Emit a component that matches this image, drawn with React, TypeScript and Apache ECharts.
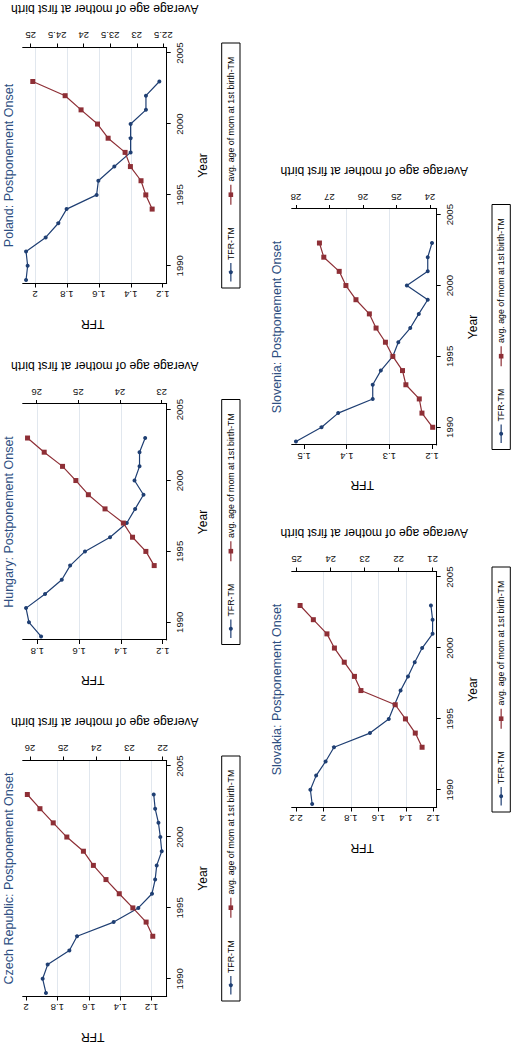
import React, { useEffect, useRef } from 'react';
import * as echarts from 'echarts';

const FONT = '"Liberation Sans", Arial, Helvetica, sans-serif';
const BLUE = '#1f3f73';
const RED = '#8e2f36';
const TITLE_BLUE = '#2e4f82';
const GRID_COLOR = '#e1e7ee';

const years = [1989, 1990, 1991, 1992, 1993, 1994, 1995, 1996, 1997, 1998, 1999, 2000, 2001, 2002, 2003];
const xTicks = [1990, 1995, 2000, 2005];

// Czech Republic
const czechTfr = [1.873, 1.894, 1.862, 1.724, 1.675, 1.442, 1.285, 1.198, 1.178, 1.168, 1.136, 1.145, 1.157, 1.178, 1.187];
const czechAge = [null, null, null, null, 22.30, 22.50, 22.90, 23.31, 23.71, 24.09, 24.39, 24.89, 25.30, 25.70, 26.08];
const czechTfrTicks = [1.2, 1.4, 1.6, 1.8, 2];
const czechTfrGrid = [1.2, 1.4, 1.6, 1.8];
const czechAgeTicks = [22, 23, 24, 25, 26];

// Hungary
const hungaryTfr = [1.782, 1.84, 1.854, 1.763, 1.683, 1.643, 1.572, 1.452, 1.372, 1.332, 1.292, 1.335, 1.311, 1.311, 1.284];
const hungaryAge = [null, null, null, null, null, 23.18, 23.38, 23.70, 23.92, 24.36, 24.76, 25.06, 25.38, 25.82, 26.22];
const hungaryTfrTicks = [1.2, 1.4, 1.6, 1.8];
const hungaryTfrGrid = [1.4, 1.6, 1.8];
const hungaryAgeTicks = [23, 24, 25, 26];

// Poland
const polandTfr = [2.056, 2.046, 2.056, 1.933, 1.854, 1.802, 1.614, 1.603, 1.503, 1.401, 1.401, 1.401, 1.305, 1.305, 1.221];
const polandAge = [null, null, null, null, null, 22.71, 22.83, 22.92, 23.12, 23.22, 23.54, 23.74, 24.05, 24.35, 24.96];
const polandTfrTicks = [1.2, 1.4, 1.6, 1.8, 2];
const polandTfrGrid = [1.4, 1.6, 1.8, 2];
const polandAgeTicks = [22.5, 23, 23.5, 24, 24.5, 25];

// Slovakia
const slovakiaTfr = [2.082, 2.095, 2.053, 1.984, 1.923, 1.661, 1.524, 1.482, 1.438, 1.384, 1.335, 1.281, 1.205, 1.205, 1.217];
const slovakiaAge = [null, null, null, null, 21.31, 21.51, 21.80, 22.10, 23.11, 23.30, 23.60, 23.89, 24.11, 24.51, 24.90];
const slovakiaTfrTicks = [1.2, 1.4, 1.6, 1.8, 2, 2.2];
const slovakiaTfrGrid = [1.4, 1.6, 1.8, 2];
const slovakiaAgeTicks = [21, 22, 23, 24, 25];

// Slovenia
const sloveniaTfr = [1.519, 1.459, 1.42, 1.339, 1.339, 1.32, 1.292, 1.279, 1.251, 1.231, 1.21, 1.259, 1.21, 1.21, 1.20];
const sloveniaAge = [null, 23.92, 24.24, 24.32, 24.72, 24.82, 25.11, 25.33, 25.61, 25.81, 26.21, 26.51, 26.71, 27.17, 27.30];
const sloveniaTfrTicks = [1.2, 1.3, 1.4, 1.5];
const sloveniaTfrGrid = [1.3, 1.4];
const sloveniaAgeTicks = [24, 25, 26, 27, 28];

const TFR_NAME = 'TFR-TM';
const AGE_NAME = 'avg. age of mom at 1st birth-TM';

// layout of the unrotated (1044 x 512) figure
const PLOT_W = 236;
const X_MIN = 1988.75;
const X_MAX = 2005.4;

const panels = [
  { title: 'Czech Republic: Postponement Onset', tfr: czechTfr, age: czechAge, tfrTicks: czechTfrTicks, tfrGrid: czechTfrGrid, ageTicks: czechAgeTicks, tfrRange: [1.1045, 2.021], ageRange: [21.88, 26.22], left: 47.5, top: 22.7, height: 144, titleY: 9.3, legendTop: 221.7 },
  { title: 'Hungary: Postponement Onset', tfr: hungaryTfr, age: hungaryAge, tfrTicks: hungaryTfrTicks, tfrGrid: hungaryTfrGrid, ageTicks: hungaryAgeTicks, tfrRange: [1.181, 1.870], ageRange: [22.88, 26.336], left: 404, top: 22.7, height: 144, titleY: 9.3, legendTop: 221.7 },
  { title: 'Poland: Postponement Onset', tfr: polandTfr, age: polandAge, tfrTicks: polandTfrTicks, tfrGrid: polandTfrGrid, ageTicks: polandAgeTicks, tfrRange: [1.175, 2.077], ageRange: [22.436, 25.15], left: 760.5, top: 22.7, height: 144, titleY: 9.3, legendTop: 221.7 },
  { title: 'Slovakia: Postponement Onset', tfr: slovakiaTfr, age: slovakiaAge, tfrTicks: slovakiaTfrTicks, tfrGrid: slovakiaTfrGrid, ageTicks: slovakiaAgeTicks, tfrRange: [1.175, 2.231], ageRange: [20.88, 25.147], left: 236.5, top: 291.7, height: 145, titleY: 277, legendTop: 492 },
  { title: 'Slovenia: Postponement Onset', tfr: sloveniaTfr, age: sloveniaAge, tfrTicks: sloveniaTfrTicks, tfrGrid: sloveniaTfrGrid, ageTicks: sloveniaAgeTicks, tfrRange: [1.189, 1.529], ageRange: [23.8, 28.128], left: 599, top: 291.7, height: 145, titleY: 277, legendTop: 492 },
];

const pairs = (vals: (number | null)[]) =>
  years.map((y, i) => [y, vals[i]]).filter((d) => d[1] !== null);

const plain = (v: number) => String(v);

function buildOption() {
  const grid: any[] = [];
  const xAxis: any[] = [];
  const yAxis: any[] = [];
  const series: any[] = [];
  const graphic: any[] = [];

  const tickLabel = { fontSize: 9.6, fontFamily: FONT, color: '#111', formatter: plain };

  panels.forEach((p, i) => {
    grid.push({ left: p.left, top: p.top, width: PLOT_W, height: p.height, containLabel: false, outerBoundsMode: 'none' });
    xAxis.push({
      type: 'value', gridIndex: i, min: X_MIN, max: X_MAX,
      axisLine: { show: true, onZero: false, lineStyle: { color: '#000', width: 1 } },
      axisTick: { show: true, length: 4, customValues: xTicks, lineStyle: { color: '#000', width: 1 } },
      axisLabel: { ...tickLabel, customValues: xTicks, margin: 8 },
      splitLine: { show: false },
    });
    // TFR axis (left)
    yAxis.push({
      type: 'value', gridIndex: i, position: 'left', min: p.tfrRange[0], max: p.tfrRange[1],
      axisLine: { show: true, onZero: false, lineStyle: { color: '#000', width: 1 } },
      axisTick: { show: true, length: 4, customValues: p.tfrTicks, lineStyle: { color: '#000', width: 1 } },
      axisLabel: { ...tickLabel, customValues: p.tfrTicks, rotate: 90, margin: 6 },
      splitLine: { show: false },
      z: 3,
    });
    // age axis (right)
    yAxis.push({
      type: 'value', gridIndex: i, position: 'right', min: p.ageRange[0], max: p.ageRange[1],
      axisLine: { show: true, onZero: false, lineStyle: { color: '#000', width: 1 } },
      axisTick: { show: true, length: 4, customValues: p.ageTicks, lineStyle: { color: '#000', width: 1 } },
      axisLabel: { ...tickLabel, customValues: p.ageTicks, rotate: 90, margin: 7 },
      splitLine: { show: false },
      z: 3,
    });
    // gridlines on the TFR scale
    yAxis.push({
      type: 'value', gridIndex: i, position: 'left', min: p.tfrRange[0], max: p.tfrRange[1],
      axisLine: { show: false },
      axisTick: { show: false, customValues: p.tfrGrid },
      axisLabel: { show: false },
      splitLine: { show: true, lineStyle: { color: GRID_COLOR, width: 1 } },
      z: 0,
    });
    series.push({
      type: 'line', name: TFR_NAME, xAxisIndex: i, yAxisIndex: 3 * i, data: pairs(p.tfr),
      symbol: 'circle', symbolSize: 4, showSymbol: true,
      lineStyle: { color: BLUE, width: 1.2 }, itemStyle: { color: BLUE }, z: 3,
    });
    series.push({
      type: 'line', name: AGE_NAME, xAxisIndex: i, yAxisIndex: 3 * i + 1, data: pairs(p.age),
      symbol: 'rect', symbolSize: 5, showSymbol: true,
      lineStyle: { color: RED, width: 1.2 }, itemStyle: { color: RED }, z: 3,
    });

    const cx = p.left + PLOT_W / 2;
    const cy = p.top + p.height / 2;
    const right = p.left + PLOT_W;
    const bottom = p.top + p.height;
    // title
    graphic.push({ type: 'text', x: cx, y: p.titleY, style: { text: p.title, fontSize: 12.5, fontFamily: FONT, fill: TITLE_BLUE, align: 'center', verticalAlign: 'middle' } });
    // axis titles
    graphic.push({ type: 'text', x: p.left - 40, y: cy - 2, rotation: Math.PI / 2, style: { text: 'TFR', fontSize: 12.2, fontFamily: FONT, fill: '#000', align: 'center', verticalAlign: 'middle' } });
    graphic.push({ type: 'text', x: right + 38.5, y: cy + 10, rotation: Math.PI / 2, style: { text: 'Average age of mother at first birth', fontSize: 12.2, fontFamily: FONT, fill: '#000', align: 'center', verticalAlign: 'middle' } });
    graphic.push({ type: 'text', x: cx, y: bottom + 36.5, style: { text: 'Year', fontSize: 12.2, fontFamily: FONT, fill: '#000', align: 'center', verticalAlign: 'middle' } });
    // legend
    const L = cx - 122.5;
    const T = p.legendTop;
    const H = 18.3;
    const ly = T + H / 2;
    graphic.push({ type: 'rect', shape: { x: L, y: T, width: 245, height: H }, style: { fill: '#fff', stroke: '#000', lineWidth: 1 } });
    graphic.push({ type: 'line', shape: { x1: L + 6.6, y1: ly, x2: L + 25, y2: ly }, style: { stroke: BLUE, lineWidth: 1.2 } });
    graphic.push({ type: 'circle', shape: { cx: L + 15.8, cy: ly, r: 2 }, style: { fill: BLUE } });
    graphic.push({ type: 'text', x: L + 28, y: ly, style: { text: TFR_NAME, fontSize: 8.8, fontFamily: FONT, fill: '#000', align: 'left', verticalAlign: 'middle' } });
    graphic.push({ type: 'line', shape: { x1: L + 83.3, y1: ly, x2: L + 103.3, y2: ly }, style: { stroke: RED, lineWidth: 1.2 } });
    graphic.push({ type: 'rect', shape: { x: L + 93.3 - 2.3, y: ly - 2.3, width: 4.6, height: 4.6 }, style: { fill: RED } });
    graphic.push({ type: 'text', x: L + 106.6, y: ly, style: { text: AGE_NAME, fontSize: 8.8, fontFamily: FONT, fill: '#000', align: 'left', verticalAlign: 'middle' } });
  });

  return {
    animation: false,
    backgroundColor: '#ffffff',
    textStyle: { fontFamily: FONT },
    grid, xAxis, yAxis, series, graphic,
  };
}

export default function App() {
  const ref = useRef<HTMLDivElement>(null);
  useEffect(() => {
    if (!ref.current) return;
    const chart = echarts.init(ref.current, undefined, { renderer: 'svg' });
    chart.setOption(buildOption() as any);
    return () => chart.dispose();
  }, []);
  return (
    <div style={{ position: 'absolute', left: 0, top: 0, width: 512, height: 1044, overflow: 'hidden', background: '#fff' }}>
      <div
        ref={ref}
        style={{
          position: 'absolute', left: 0, top: 0, width: 1044, height: 512,
          transformOrigin: '0 0', transform: 'translateY(1044px) rotate(-90deg)',
        }}
      />
    </div>
  );
}
